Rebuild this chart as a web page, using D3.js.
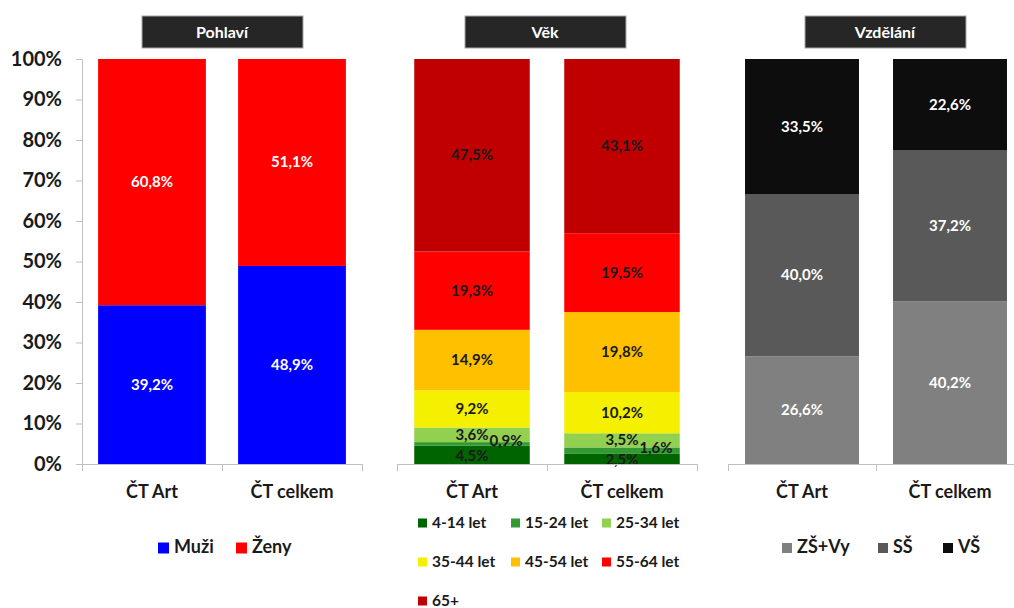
<!DOCTYPE html>
<html>
<head>
<meta charset="utf-8">
<script src="https://cdn.jsdelivr.net/npm/d3@7"></script>
<style>
  body { margin: 0; background: #fff; }
  svg { display: block; font-family: Lato, "Open Sans", sans-serif; font-weight: bold; }
</style>
</head>
<body>
<div class="container"></div>
<script>
// data (percent)
var categories = ["ČT Art", "ČT celkem"];
var yTicks = [0, 10, 20, 30, 40, 50, 60, 70, 80, 90, 100];

var sexNames = ["Muži", "Ženy"];
var sexColors = ["#0000ff", "#ff0000"];
var sexValues = [[39.2, 48.9], [60.8, 51.1]];

var ageNames = ["4-14 let", "15-24 let", "25-34 let", "35-44 let", "45-54 let", "55-64 let", "65+"];
var ageColors = ["#006400", "#339933", "#92d050", "#f5f000", "#ffc000", "#ff0000", "#c00000"];
var ageValues = [[4.5, 2.5], [0.9, 1.6], [3.6, 3.5], [9.2, 10.2], [14.9, 19.8], [19.3, 19.5], [47.5, 43.1]];

var eduNames = ["ZŠ+Vy", "SŠ", "VŠ"];
var eduColors = ["#808080", "#595959", "#0d0d0d"];
var eduValues = [[26.6, 40.2], [40.0, 37.2], [33.5, 22.6]];

var W = 1014, H = 608;
var svg = d3.select(".container").append("svg").attr("width", W).attr("height", H);

var y = d3.scaleLinear().domain([0, 100]).range([464, 59]);

// left axis, only once
var yAxis = svg.append("g")
  .attr("transform", "translate(82,0)")
  .call(d3.axisLeft(y).tickValues(yTicks).tickSize(6).tickSizeOuter(0).tickFormat(function(d) { return d + "%"; }));
yAxis.select(".domain").attr("stroke", "#bfbfbf");
yAxis.selectAll(".tick line").attr("stroke", "#bfbfbf");
yAxis.selectAll("text").attr("x", -20).attr("font-size", 20).attr("font-weight", "bold")
  .attr("fill", "#1a1a1a").style("font-family", "Lato");

function fmt(v) { return v.toFixed(1).replace(".", ",") + "%"; }

function drawPanel(p) {
  var x = d3.scaleBand().domain(categories).range([p.x0, p.x1]).paddingInner(0.23).paddingOuter(0.115);
  var g = svg.append("g");

  // title box
  g.append("rect").attr("x", p.titleX - 80).attr("y", 16).attr("width", 161).attr("height", 32)
    .attr("fill", "#262626").attr("stroke", "#a6a6a6").attr("stroke-width", 1);
  g.append("text").attr("x", p.titleX).attr("y", 38).attr("text-anchor", "middle")
    .attr("fill", "#fff").attr("font-size", 16).text(p.title);

  // 100% stacked like the original chart
  var rows = categories.map(function(c, i) {
    var o = { cat: c };
    p.names.forEach(function(n, k) { o[n] = p.values[k][i]; });
    return o;
  });
  var series = d3.stack().keys(p.names).offset(d3.stackOffsetExpand)(rows);

  series.forEach(function(s, k) {
    g.selectAll(null).data(s).enter().append("rect")
      .attr("x", function(d) { return x(d.data.cat); })
      .attr("width", x.bandwidth())
      .attr("y", function(d) { return y(d[1] * 100); })
      .attr("height", function(d) { return y(d[0] * 100) - y(d[1] * 100); })
      .attr("fill", p.colors[k]);
  });
  series.forEach(function(s, k) {
    g.selectAll(null).data(s).enter().append("text")
      .attr("x", function(d) {
        var v = d.data[p.names[k]];
        return x(d.data.cat) + x.bandwidth() / 2 + (v < 2 ? 34 : 0);
      })
      .attr("y", function(d) {
        var v = d.data[p.names[k]];
        var c = (y(d[0] * 100) + y(d[1] * 100)) / 2;
        if (v < 2) c -= 3;
        else if (k == 0 && v < 5) c += 1;
        return c + 5;
      })
      .attr("text-anchor", "middle")
      .attr("font-size", 15)
      .attr("fill", p.labelColor)
      .text(function(d) { return fmt(d.data[p.names[k]]); });
  });

  // x axis baseline with ticks at band edges
  var step = x.step();
  g.append("line").attr("x1", p.x0).attr("x2", p.x1).attr("y1", 464.5).attr("y2", 464.5).attr("stroke", "#bfbfbf");
  [0, 1, 2].forEach(function(i) {
    var tx = Math.round(p.x0 + i * step) + 0.5;
    g.append("line").attr("x1", tx).attr("x2", tx).attr("y1", 464).attr("y2", 471).attr("stroke", "#bfbfbf");
  });
  g.selectAll(null).data(categories).enter().append("text")
    .attr("x", function(c) { return x(c) + x.bandwidth() / 2; })
    .attr("y", 498).attr("text-anchor", "middle").attr("font-size", 18).attr("fill", "#1a1a1a")
    .text(function(c) { return c; });

  // legend
  p.names.forEach(function(n, k) {
    var L = p.legend[k];
    g.append("rect").attr("x", L[0]).attr("y", L[1] - p.sq / 2 - 5).attr("width", p.sq).attr("height", p.sq).attr("fill", p.colors[k]);
    g.append("text").attr("x", L[0] + p.sq + 5).attr("y", L[1]).attr("font-size", p.legendFont).attr("fill", "#1a1a1a").text(n);
  });
}

drawPanel({ title: "Pohlaví", titleX: 222, x0: 82, x1: 362, names: sexNames, colors: sexColors, values: sexValues,
  labelColor: "#fff", sq: 11, legendFont: 18, legend: [[158, 553], [236, 553]] });

drawPanel({ title: "Věk", titleX: 545, x0: 397, x1: 697, names: ageNames, colors: ageColors, values: ageValues,
  labelColor: "#1a1a1a", sq: 9, legendFont: 15.5,
  legend: [[418, 528], [511, 528], [602, 528], [418, 567], [511, 567], [602, 567], [418, 606]] });

drawPanel({ title: "Vzdělání", titleX: 885, x0: 728, x1: 1024, names: eduNames, colors: eduColors, values: eduValues,
  labelColor: "#fff", sq: 10, legendFont: 18, legend: [[782, 553], [878, 553], [943, 553]] });
</script>
</body>
</html>
